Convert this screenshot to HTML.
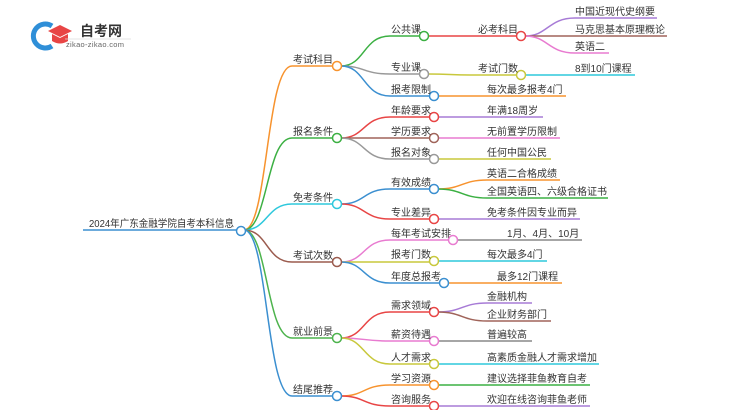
<!DOCTYPE html>
<html><head><meta charset="utf-8"><style>
html,body{margin:0;padding:0;background:#fff;width:750px;height:410px;overflow:hidden}
svg text{font-family:"Liberation Sans","Noto Sans CJK SC",sans-serif;fill:#333;font-size:10px}
</style></head><body>
<svg width="750" height="410" viewBox="0 0 750 410" xmlns="http://www.w3.org/2000/svg">
<g fill="none" stroke-width="1.5">
<path d="M83 230 L237 230" stroke="#3b8fd0"/>
<path d="M244 230 C268 230,266 66,292 66 L333 66" stroke="#f7932e"/>
<path d="M244 230 C268 230,266 138,292 138 L333 138" stroke="#3cb043"/>
<path d="M244 230 C268 230,266 204,292 204 L333 204" stroke="#2ec8dc"/>
<path d="M244 230 C268 230,266 262,292 262 L333 262" stroke="#9b5b4e"/>
<path d="M244 230 C268 230,266 338,292 338 L333 338" stroke="#4db34d"/>
<path d="M244 230 C268 230,266 396,292 396 L333 396" stroke="#3b8fd0"/>
<path d="M341 66 C365 66,363 36,390 36 L420 36" stroke="#3cb043"/>
<path d="M341 66 C365 66,363 74,390 74 L420 74" stroke="#999"/>
<path d="M341 66 C365 66,363 96,390 96 L430 96" stroke="#3b8fd0"/>
<path d="M341 138 C365 138,363 117,390 117 L430 117" stroke="#e84545"/>
<path d="M341 138 L430 138" stroke="#a0645a"/>
<path d="M341 138 C365 138,363 159,390 159 L430 159" stroke="#999"/>
<path d="M341 204 C365 204,363 189,390 189 L430 189" stroke="#3b8fd0"/>
<path d="M341 204 C365 204,363 219,390 219 L430 219" stroke="#e84545"/>
<path d="M341 262 C365 262,363 240,390 240 L449 240" stroke="#e87bd0"/>
<path d="M341 262 L430 262" stroke="#c8c83c"/>
<path d="M341 262 C365 262,363 283,390 283 L440 283" stroke="#3b8fd0"/>
<path d="M341 338 C365 338,363 312,390 312 L430 312" stroke="#e84545"/>
<path d="M341 338 C365 338,363 341,390 341 L430 341" stroke="#e87bd0"/>
<path d="M341 338 C365 338,363 364,390 364 L430 364" stroke="#c8c83c"/>
<path d="M341 396 C365 396,363 385,390 385 L430 385" stroke="#f7932e"/>
<path d="M341 396 C365 396,363 406,390 406 L430 406" stroke="#e84545"/>
<path d="M428 36 L517 36" stroke="#e84545"/>
<path d="M428 74 C450 74,450 75,470 75 L517 75" stroke="#c8c83c"/>
<path d="M525 36 C548 36,548 18,575 18 L657 18" stroke="#a77bd6"/>
<path d="M525 36 L667 36" stroke="#a0645a"/>
<path d="M525 36 C548 36,548 53,575 53 L609 53" stroke="#e87bd0"/>
<path d="M525 75 L635 75" stroke="#2ec8dc"/>
<path d="M438 96 L566 96" stroke="#f7932e"/>
<path d="M438 117 L543 117" stroke="#a77bd6"/>
<path d="M438 138 L560 138" stroke="#e87bd0"/>
<path d="M438 159 L551 159" stroke="#c8c83c"/>
<path d="M438 189 C462 189,462 180,487 180 L560 180" stroke="#f7932e"/>
<path d="M438 189 C462 189,462 198,487 198 L608 198" stroke="#3cb043"/>
<path d="M438 219 L580 219" stroke="#a77bd6"/>
<path d="M457 240 L582 240" stroke="#888"/>
<path d="M438 261 L547 261" stroke="#2ec8dc"/>
<path d="M448 283 L562 283" stroke="#f7932e"/>
<path d="M438 312 C462 312,462 303,487 303 L532 303" stroke="#a77bd6"/>
<path d="M438 312 C462 312,462 321,487 321 L551 321" stroke="#a0645a"/>
<path d="M438 341 L532 341" stroke="#888"/>
<path d="M438 364 L599 364" stroke="#2ec8dc"/>
<path d="M438 385 L590 385" stroke="#3cb043"/>
<path d="M438 406 L590 406" stroke="#a77bd6"/>
</g>
<g fill="#fff" stroke-width="1.5">
<circle cx="241" cy="231" r="4.5" stroke="#3b8fd0"/>
<circle cx="337" cy="66" r="4.5" stroke="#f7932e"/>
<circle cx="337" cy="138" r="4.5" stroke="#3cb043"/>
<circle cx="337" cy="204" r="4.5" stroke="#2ec8dc"/>
<circle cx="337" cy="262" r="4.5" stroke="#9b5b4e"/>
<circle cx="337" cy="338" r="4.5" stroke="#4db34d"/>
<circle cx="337" cy="396" r="4.5" stroke="#3b8fd0"/>
<circle cx="424" cy="36" r="4.5" stroke="#3cb043"/>
<circle cx="424" cy="74" r="4.5" stroke="#999"/>
<circle cx="434" cy="96" r="4.5" stroke="#3b8fd0"/>
<circle cx="434" cy="117" r="4.5" stroke="#e84545"/>
<circle cx="434" cy="138" r="4.5" stroke="#a0645a"/>
<circle cx="434" cy="159" r="4.5" stroke="#999"/>
<circle cx="434" cy="189" r="4.5" stroke="#3b8fd0"/>
<circle cx="434" cy="219" r="4.5" stroke="#e84545"/>
<circle cx="453" cy="240" r="4.5" stroke="#e87bd0"/>
<circle cx="434" cy="261" r="4.5" stroke="#c8c83c"/>
<circle cx="444" cy="283" r="4.5" stroke="#3b8fd0"/>
<circle cx="434" cy="312" r="4.5" stroke="#e84545"/>
<circle cx="434" cy="341" r="4.5" stroke="#e87bd0"/>
<circle cx="434" cy="364" r="4.5" stroke="#c8c83c"/>
<circle cx="434" cy="385" r="4.5" stroke="#f7932e"/>
<circle cx="434" cy="406" r="4.5" stroke="#e84545"/>
<circle cx="521" cy="36" r="4.5" stroke="#e84545"/>
<circle cx="521" cy="75" r="4.5" stroke="#c8c83c"/>
</g>
<path d="M52 26 A12 12 0 1 0 52 46" fill="none" stroke="#2f8fd8" stroke-width="5"/>
<polygon points="48,31 60,25 72,31 60,37" fill="#e84545"/>
<path d="M52 34 L52 41 Q60 46 68 41 L68 34 L60 38 Z" fill="#e84545"/>
<text x="80" y="36" style="font-size:14px;font-weight:bold;fill:#333">自考网</text>
<line x1="65" y1="39" x2="131" y2="39" stroke="#ddd" stroke-width="0.7"/>
<text x="66" y="47" style="font-size:7.5px;fill:#666;letter-spacing:0.3px">zikao-zikao.com</text>
<text x="89" y="227" textLength="145" lengthAdjust="spacingAndGlyphs">2024年广东金融学院自考本科信息</text>
<g>
<text x="293" y="63">考试科目</text>
<text x="293" y="135">报名条件</text>
<text x="293" y="201">免考条件</text>
<text x="293" y="259">考试次数</text>
<text x="293" y="335">就业前景</text>
<text x="293" y="393">结尾推荐</text>
<text x="391" y="33">公共课</text>
<text x="391" y="71">专业课</text>
<text x="391" y="93">报考限制</text>
<text x="391" y="114">年龄要求</text>
<text x="391" y="135">学历要求</text>
<text x="391" y="156">报名对象</text>
<text x="391" y="186">有效成绩</text>
<text x="391" y="216">专业差异</text>
<text x="391" y="237">每年考试安排</text>
<text x="391" y="258">报考门数</text>
<text x="391" y="280">年度总报考</text>
<text x="391" y="309">需求领域</text>
<text x="391" y="338">薪资待遇</text>
<text x="391" y="361">人才需求</text>
<text x="391" y="382">学习资源</text>
<text x="391" y="403">咨询服务</text>
<text x="478" y="33">必考科目</text>
<text x="478" y="72">考试门数</text>
<text x="575" y="15">中国近现代史纲要</text>
<text x="575" y="33">马克思基本原理概论</text>
<text x="575" y="50">英语二</text>
<text x="575" y="72">8到10门课程</text>
<text x="487" y="93">每次最多报考4门</text>
<text x="487" y="114">年满18周岁</text>
<text x="487" y="135">无前置学历限制</text>
<text x="487" y="156">任何中国公民</text>
<text x="487" y="177">英语二合格成绩</text>
<text x="487" y="195">全国英语四、六级合格证书</text>
<text x="487" y="216">免考条件因专业而异</text>
<text x="507" y="237">1月、4月、10月</text>
<text x="487" y="258">每次最多4门</text>
<text x="497" y="280">最多12门课程</text>
<text x="487" y="300">金融机构</text>
<text x="487" y="318">企业财务部门</text>
<text x="487" y="338">普遍较高</text>
<text x="487" y="361">高素质金融人才需求增加</text>
<text x="487" y="382">建议选择菲鱼教育自考</text>
<text x="487" y="403">欢迎在线咨询菲鱼老师</text>
</g>
</svg>
</body></html>
